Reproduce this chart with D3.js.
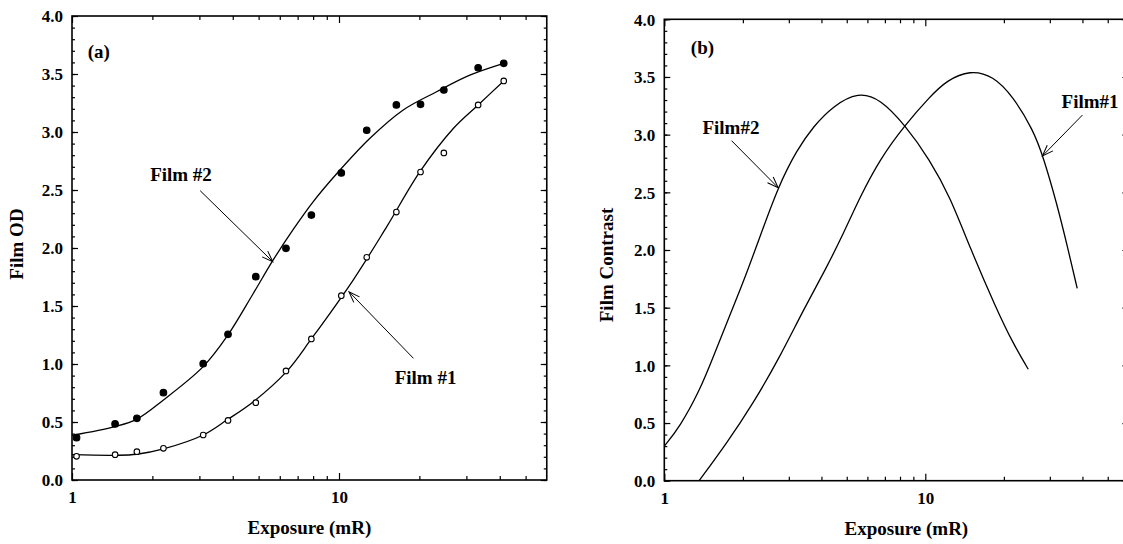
<!DOCTYPE html>
<html>
<head>
<meta charset="utf-8">
<script src="https://cdn.jsdelivr.net/npm/d3@7"></script>
<style>
  body { margin: 0; background: #fff; }
  svg { display: block; }
</style>
</head>
<body>
<div id="chart"></div>
<script>
// exposures (mR) of the measured points
const exposure = [1.04, 1.45, 1.75, 2.2, 3.1, 3.84, 4.88, 6.33, 7.88, 10.2, 12.7, 16.4, 20.2, 24.7, 33.2, 41.4];
// measured optical density
const film2OD = [0.365, 0.483, 0.532, 0.753, 1.003, 1.256, 1.753, 1.997, 2.284, 2.647, 3.015, 3.233, 3.239, 3.362, 3.554, 3.592];
const film1OD = [0.204, 0.218, 0.244, 0.273, 0.388, 0.514, 0.667, 0.94, 1.216, 1.589, 1.92, 2.31, 2.655, 2.82, 3.233, 3.44];
// fitted curves
const fit2X = [1, 1.45, 1.75, 2.2, 3.1, 3.8, 4.78, 5.67, 6.74, 8.01, 9.8, 13.06, 17.4, 23.2, 30.9, 41.4];
const fit2OD = [0.385, 0.46, 0.525, 0.69, 0.977, 1.235, 1.61, 1.897, 2.16, 2.40, 2.64, 2.946, 3.19, 3.347, 3.49, 3.592];
const fit1X = [1, 1.45, 1.75, 2.2, 3.1, 3.8, 4.78, 6.36, 7.9, 11.3, 15.1, 20.1, 26.8, 33.2, 41.4];
const fit1OD = [0.218, 0.213, 0.222, 0.268, 0.388, 0.517, 0.675, 0.934, 1.22, 1.724, 2.184, 2.658, 3.03, 3.233, 3.44];

// film contrast curves (panel b)
const contrast2X = [1, 1.148, 1.37, 1.541, 1.786, 2.007, 2.326, 2.73, 3.22, 3.72, 4.44, 5.54, 6.71, 8.36, 10.42, 12.43, 14.83, 18.8, 21.7, 24.8];
const contrast2 = [0.30, 0.468, 0.786, 1.075, 1.44, 1.72, 2.115, 2.549, 2.867, 3.07, 3.25, 3.37, 3.31, 3.084, 2.78, 2.462, 2.02, 1.48, 1.19, 0.966];
const contrast1X = [1.36, 1.734, 2.193, 2.776, 3.41, 4.19, 4.85, 5.62, 6.71, 8.36, 10.42, 12.08, 14.83, 18.2, 21.7, 25.9, 28.3, 31.9, 35.3, 38.2];
const contrast1 = [0, 0.324, 0.671, 1.075, 1.48, 1.85, 2.14, 2.46, 2.79, 3.084, 3.33, 3.47, 3.56, 3.51, 3.33, 3.04, 2.81, 2.405, 2.0, 1.667];

const xMajor = [1, 10];
const xMinor = [2, 3, 4, 5, 6, 7, 8, 9, 20, 30, 40, 50];

const W = 1123, H = 544;
const font = "'Liberation Serif', 'Times New Roman', serif";

const svg = d3.select("#chart").append("svg")
  .attr("width", W).attr("height", H)
  .style("font-family", font);

svg.append("defs").append("marker")
    .attr("id", "arrow")
    .attr("markerUnits", "userSpaceOnUse")
    .attr("viewBox", "-12 -6 14 12")
    .attr("refX", 0)
    .attr("refY", 0)
    .attr("markerWidth", 14)
    .attr("markerHeight", 12)
    .attr("orient", "auto")
  .append("path")
    .attr("d", "M-11,-4L0,0L-11,4")
    .attr("fill", "none")
    .attr("stroke", "#000")
    .attr("stroke-width", 1);

function panel(cfg) {
  const x = d3.scaleLog().domain([1, 60]).range([cfg.left, cfg.left + cfg.decade * Math.log10(60)]);
  const y = d3.scaleLinear().domain([0, 4]).range([cfg.bottom, cfg.top]);
  const right = x.range()[1];
  const g = svg.append("g");

  const yMajor = d3.range(0, 4.01, 0.5);
  const yMinor = d3.range(0, 4.01, 0.1);

  // ticks, all pointing inward; labels only on bottom and left
  const axes = [
    [d3.axisBottom(x).tickValues(xMajor).tickSize(-7).tickFormat(d3.format("d")), `translate(0,${cfg.bottom})`, "x"],
    [d3.axisBottom(x).tickValues(xMinor).tickSize(-4), `translate(0,${cfg.bottom})`, null],
    [d3.axisTop(x).tickValues(xMajor).tickSize(-7), `translate(0,${cfg.top})`, null],
    [d3.axisTop(x).tickValues(xMinor).tickSize(-4), `translate(0,${cfg.top})`, null],
    [d3.axisLeft(y).tickValues(yMajor).tickSize(-6).tickFormat(d3.format(".1f")), `translate(${cfg.left},0)`, "y"],
    [d3.axisLeft(y).tickValues(yMinor).tickSize(-3), `translate(${cfg.left},0)`, null],
    [d3.axisRight(y).tickValues(yMajor).tickSize(-6), `translate(${right},0)`, null],
    [d3.axisRight(y).tickValues(yMinor).tickSize(-3), `translate(${right},0)`, null]
  ];
  axes.forEach(([ax, tr, labels]) => {
    const a = g.append("g").attr("transform", tr).call(ax.tickSizeOuter(0));
    a.select(".domain").remove();
    a.selectAll(".tick line").attr("stroke", "#000").attr("stroke-width", 1.2);
    const t = a.selectAll(".tick text");
    if (!labels) { t.remove(); return; }
    t.attr("fill", "#000")
      .style("font-family", font)
      .style("font-size", "17px")
      .style("font-weight", "bold");
    if (labels === "y") t.attr("x", -9).attr("dy", "0.35em");
    else t.attr("y", 11).attr("dy", "0.71em");
  });

  g.append("rect")
    .attr("x", cfg.left).attr("y", cfg.top)
    .attr("width", right - cfg.left).attr("height", cfg.bottom - cfg.top)
    .attr("fill", "none").attr("stroke", "#000").attr("stroke-width", 1.6);

  g.append("text")
    .attr("x", (cfg.left + right) / 2 - (cfg.shiftTitle || 0))
    .attr("y", cfg.bottom + 54)
    .attr("text-anchor", "middle")
    .style("font-size", "19px").style("font-weight", "bold")
    .text("Exposure (mR)");

  g.append("text")
    .attr("transform", `translate(${cfg.yTitleX},${cfg.yTitleY}) rotate(-90)`)
    .attr("text-anchor", "middle")
    .style("font-size", "19px").style("font-weight", "bold")
    .text(cfg.yTitle);

  g.append("text")
    .attr("x", x(cfg.tag[1])).attr("y", y(cfg.tag[2]))
    .attr("text-anchor", "middle")
    .style("font-size", "19px").style("font-weight", "bold")
    .text(cfg.tag[0]);

  const line = d3.line().x(d => x(d[0])).y(d => y(d[1])).curve(cfg.curve);
  cfg.lines.forEach(l => {
    g.append("path")
      .attr("d", line(d3.zip(l[0], l[1])))
      .attr("fill", "none").attr("stroke", "#000").attr("stroke-width", 1.3);
  });

  (cfg.points || []).forEach(p => {
    g.append("g").selectAll("circle")
      .data(d3.zip(exposure, p.values))
      .join("circle")
        .attr("cx", d => x(d[0])).attr("cy", d => y(d[1]))
        .attr("r", p.filled ? 3.3 : 2.8)
        .attr("fill", p.filled ? "#000" : "#fff")
        .attr("stroke", "#000").attr("stroke-width", 1.1);
  });

  cfg.notes.forEach(n => {
    g.append("text")
      .attr("x", x(n.tx)).attr("y", y(n.ty))
      .attr("text-anchor", "middle")
      .style("font-size", "19px").style("font-weight", "bold")
      .text(n.text);
    g.append("line")
      .attr("x1", x(n.from[0])).attr("y1", y(n.from[1]))
      .attr("x2", x(n.to[0])).attr("y2", y(n.to[1]))
      .attr("stroke", "#000").attr("stroke-width", 1)
      .attr("marker-end", "url(#arrow)");
  });
}

panel({
  left: 72, top: 16, bottom: 480, decade: 267, curve: d3.curveCatmullRom,
  yTitle: "Film OD", yTitleX: 23, yTitleY: 244,
  tag: ["(a)", 1.26, 3.64],
  lines: [[fit2X, fit2OD], [fit1X, fit1OD]],
  points: [{ values: film2OD, filled: true }, { values: film1OD, filled: false }],
  notes: [
    { text: "Film #2", tx: 2.56, ty: 2.58, from: [3.02, 2.494], to: [5.65, 1.882] },
    { text: "Film #1", tx: 21.1, ty: 0.83, from: [19.0, 1.049], to: [10.9, 1.623] }
  ]
});

panel({
  left: 664.3, top: 19.3, bottom: 480.7, decade: 261, shiftTitle: -10, curve: d3.curveBasis,
  yTitle: "Film Contrast", yTitleX: 613, yTitleY: 265,
  tag: ["(b)", 1.40, 3.70],
  lines: [[contrast2X, contrast2], [contrast1X, contrast1]],
  notes: [
    { text: "Film#2", tx: 1.80, ty: 3.006, from: [1.81, 2.948], to: [2.73, 2.54] },
    { text: "Film#1", tx: 42.8, ty: 3.23, from: [40.0, 3.17], to: [28.1, 2.815] }
  ]
});
</script>
</body>
</html>
